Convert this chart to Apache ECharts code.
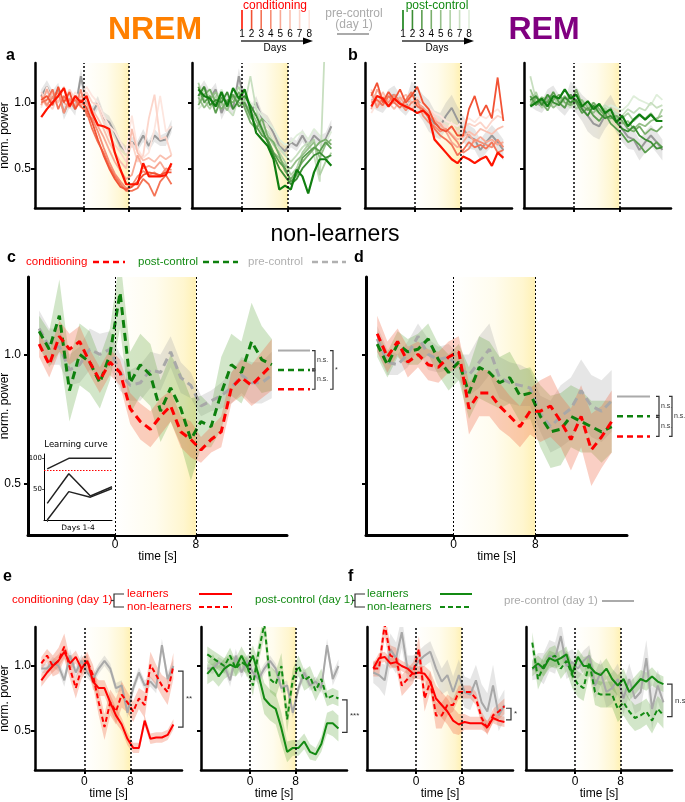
<!DOCTYPE html>
<html><head><meta charset="utf-8">
<script src="https://cdn.jsdelivr.net/npm/echarts@6/dist/echarts.min.js"></script>
<style>html,body{margin:0;padding:0;background:#fff}#c{width:685px;height:802px}</style>
</head><body><div id="c"></div>
<script>
// ---------------- DATA ----------------
const times = [-7.5,-6.5,-5.5,-4.5,-3.5,-2.5,-1.5,-0.5,0.5,1.5,2.5,3.5,4.5,5.5,6.5,7.5,8.5,9.5,10.5,11.5,12.5,13.5,14.5,15.5];
const xTicks = [0, 8];
const yTicks = [0.5, 1.0];

// a: NREM, conditioning days 1-8
const nremCondDays = [
 [0.89,0.95,1.00,1.05,1.11,0.97,1.05,1.00,1.05,0.92,0.83,0.82,0.80,0.62,0.49,0.38,0.38,0.38,0.54,0.44,0.44,0.44,0.45,0.54],
 [1.02,1.05,0.98,1.12,1.00,1.08,0.95,1.02,0.96,0.85,0.72,0.60,0.50,0.42,0.36,0.34,0.36,0.40,0.45,0.47,0.46,0.45,0.47,0.47],
 [1.00,1.02,1.10,0.95,1.05,0.98,1.02,0.97,0.93,0.80,0.70,0.62,0.52,0.44,0.38,0.33,0.33,0.35,0.42,0.38,0.29,0.40,0.45,0.38],
 [1.05,0.98,1.04,1.08,0.92,1.03,0.95,1.10,0.90,0.88,0.78,0.66,0.55,0.46,0.40,0.35,0.37,0.44,0.48,0.45,0.47,0.44,0.50,0.49],
 [0.98,1.10,1.00,1.05,1.00,0.96,1.05,0.98,1.00,0.90,0.82,0.74,0.64,0.55,0.48,0.42,0.45,0.60,0.50,0.52,0.50,0.55,0.48,0.52],
 [1.03,0.97,1.08,1.00,1.12,1.00,0.98,1.05,1.02,0.95,0.88,0.80,0.70,0.62,0.55,0.50,0.80,0.62,0.56,0.58,0.55,0.60,0.57,0.60],
 [1.08,1.00,0.95,1.06,1.00,1.10,1.02,0.96,1.08,1.00,0.98,0.86,0.75,0.68,0.62,0.55,0.70,0.55,0.60,0.88,1.06,0.72,0.74,0.60],
 [0.96,1.12,1.00,1.00,1.05,0.98,1.08,1.02,1.12,1.05,1.00,0.90,0.82,0.78,0.70,0.62,0.90,0.65,0.58,0.62,0.80,1.05,0.78,0.82]
];
// a: NREM, post-control days 1-8
const nremPostDays = [
 [1.10,1.05,1.03,0.97,1.08,0.97,1.11,1.03,1.10,0.95,0.77,0.72,0.67,0.57,0.34,0.37,0.34,0.49,0.44,0.31,0.47,0.57,0.57,0.52],
 [1.05,1.12,0.98,1.02,1.00,1.08,0.95,1.02,1.05,0.98,0.90,0.80,0.70,0.60,0.50,0.44,0.38,0.42,0.50,0.55,0.60,0.62,0.58,0.60],
 [1.12,1.00,1.05,0.92,1.04,1.00,1.06,0.97,1.00,0.90,0.82,0.75,0.72,0.62,0.55,0.50,0.40,0.45,0.58,0.62,0.66,0.63,0.70,0.65],
 [0.98,1.06,1.10,1.00,0.95,1.02,1.00,1.08,0.96,0.85,0.80,0.88,0.74,0.70,0.60,0.48,0.42,0.48,0.55,0.60,0.65,0.70,0.72,0.68],
 [1.04,0.96,1.02,1.08,1.00,0.94,1.05,1.00,0.98,0.94,0.86,0.78,0.70,0.62,0.58,0.52,0.50,0.56,0.60,0.65,0.70,0.58,0.68,0.72],
 [1.15,1.02,0.95,1.05,0.98,1.00,1.03,1.12,1.00,0.88,0.92,0.80,0.75,0.68,0.62,0.55,0.45,0.50,0.62,0.68,0.72,0.45,0.55,0.62],
 [1.00,1.10,1.04,0.98,1.06,0.95,0.90,1.05,0.98,1.20,0.95,0.82,0.78,0.70,0.66,0.60,0.55,0.60,0.66,0.70,0.60,0.40,1.60,1.60],
 [0.95,1.00,1.08,1.02,1.10,1.00,1.04,0.98,1.06,1.00,0.96,0.90,0.85,0.80,0.72,0.68,0.70,0.75,0.78,0.72,0.80,0.75,0.70,0.78]
];
const nremPre = [1.05,1.12,1.03,1.10,0.92,1.02,0.95,1.20,1.00,0.92,1.00,0.88,0.85,0.77,0.67,0.63,0.70,0.67,0.75,0.67,0.75,0.71,0.72,0.82];
const semNremPre = [0.05,0.05,0.06,0.05,0.05,0.06,0.05,0.06,0.05,0.05,0.05,0.05,0.05,0.05,0.04,0.04,0.04,0.04,0.05,0.04,0.05,0.04,0.05,0.05];

// b: REM, conditioning days 1-8
const remCondDays = [
 [0.97,1.05,1.03,0.97,1.03,0.99,0.97,0.95,0.92,0.94,0.90,0.72,0.67,0.62,0.57,0.54,0.59,0.57,0.54,0.57,0.59,0.52,0.62,0.58],
 [1.05,1.15,1.00,1.08,1.02,1.10,1.00,1.05,1.12,1.00,0.95,0.85,0.80,0.78,0.82,0.75,0.75,0.95,1.05,0.90,0.98,0.88,1.19,0.86],
 [1.00,1.02,0.98,1.05,1.00,0.96,1.02,1.08,0.97,0.95,0.88,0.80,0.75,0.72,0.68,0.60,0.64,0.70,0.66,0.68,0.65,0.70,0.62,0.64],
 [1.08,0.96,1.04,1.00,1.06,1.00,0.94,1.00,1.02,0.90,0.85,0.82,0.78,0.80,0.75,0.70,0.62,0.65,0.72,0.70,0.68,0.66,0.72,0.66],
 [0.95,1.10,1.02,0.98,1.00,1.04,0.98,0.94,1.00,0.96,0.92,0.86,0.84,0.78,0.70,0.66,0.70,0.76,0.70,0.74,0.70,0.72,0.68,0.70],
 [1.02,0.98,1.08,1.00,0.95,1.02,1.06,1.00,0.98,0.92,0.90,0.88,0.82,0.80,0.76,0.72,0.74,0.78,0.75,0.80,0.78,0.76,0.80,0.82],
 [1.10,1.00,0.96,1.04,1.00,0.98,1.02,0.96,1.04,1.00,0.95,0.90,0.85,0.82,0.80,0.78,0.80,0.84,0.82,0.85,0.80,0.86,0.90,0.88],
 [0.92,1.00,1.05,1.00,1.02,0.96,1.00,1.04,1.00,0.98,0.96,0.92,0.90,0.86,0.84,0.82,0.86,0.88,0.85,0.90,0.88,0.92,0.95,0.90]
];
// b: REM, post-control days 1-8
const remPostDays = [
 [0.97,1.00,1.03,0.97,1.05,1.03,1.10,1.03,1.06,0.97,1.01,0.95,0.99,0.92,0.95,0.85,0.90,0.82,0.87,0.91,0.87,0.91,0.86,0.86],
 [1.02,1.05,0.98,1.06,1.00,0.98,1.04,1.00,1.02,0.95,0.90,0.98,0.92,0.88,0.90,0.85,0.80,0.78,0.82,0.75,0.72,0.70,0.65,0.66],
 [1.05,0.98,1.02,1.00,1.08,1.00,0.96,1.06,1.00,0.92,0.96,0.90,0.86,0.92,0.84,0.80,0.76,0.70,0.72,0.68,0.62,0.66,0.70,0.66],
 [0.98,1.04,1.00,0.94,1.02,1.06,1.00,0.98,1.10,0.98,0.94,1.00,0.95,0.90,0.88,0.90,0.86,0.80,0.78,0.82,0.76,0.80,0.78,0.82],
 [1.10,1.00,1.04,1.02,0.96,1.00,1.05,0.98,1.00,1.02,0.96,0.92,0.98,0.94,0.90,0.88,0.84,0.86,0.80,0.84,0.82,0.86,0.88,0.90],
 [1.00,1.08,0.96,1.00,1.04,0.98,1.02,1.06,0.95,1.00,0.98,0.95,0.92,0.96,0.92,0.90,0.88,0.92,0.86,0.90,0.88,0.92,0.86,0.95],
 [1.20,1.02,1.00,1.06,0.98,1.04,1.00,0.96,1.02,0.98,1.00,0.96,0.94,0.98,0.95,0.92,0.90,0.95,0.92,0.96,0.94,1.00,0.96,0.98],
 [1.04,0.98,1.02,1.00,1.06,1.00,0.98,1.04,1.00,1.02,0.98,1.00,0.97,0.95,0.98,0.96,0.94,0.98,1.05,1.02,1.00,0.98,1.06,1.02]
];
const remPre = [1.02,1.00,0.97,1.04,1.06,1.00,0.96,1.06,1.02,0.96,0.90,0.84,0.82,0.90,0.96,0.87,0.80,0.74,0.72,0.64,0.70,0.75,0.70,0.64];
const semRemPre = [0.05,0.06,0.05,0.06,0.07,0.06,0.06,0.10,0.10,0.10,0.12,0.10,0.10,0.10,0.10,0.10,0.10,0.09,0.08,0.08,0.08,0.08,0.08,0.08];

// c: NREM non-learners
const cCond = [1.04,0.96,1.07,1.02,1.05,0.97,0.90,0.97,0.93,0.79,0.74,0.71,0.76,0.80,0.70,0.67,0.63,0.67,0.70,0.87,0.91,0.88,0.92,0.96];
const cPost = [1.09,1.02,1.15,0.86,1.00,0.97,0.89,1.00,1.24,0.89,0.96,0.92,0.78,0.87,0.79,0.67,0.74,0.72,0.85,0.96,0.93,1.05,0.98,0.96];
const cPre  = [1.10,1.03,1.03,0.94,0.96,1.02,1.00,1.02,0.93,0.88,0.89,0.94,0.93,1.01,0.91,0.88,0.80,0.82,0.84,0.87,0.92,0.89,0.89,0.92];
const semCCond = [0.05,0.05,0.06,0.06,0.06,0.05,0.05,0.05,0.05,0.06,0.07,0.07,0.07,0.06,0.06,0.07,0.05,0.05,0.06,0.06,0.07,0.08,0.09,0.10];
const semCPost = [0.06,0.07,0.14,0.12,0.12,0.12,0.10,0.10,0.14,0.12,0.12,0.12,0.12,0.13,0.14,0.16,0.10,0.08,0.14,0.12,0.12,0.15,0.13,0.10];
const semCPre  = [0.07,0.07,0.07,0.06,0.07,0.08,0.08,0.07,0.07,0.06,0.07,0.07,0.07,0.06,0.06,0.05,0.04,0.04,0.05,0.06,0.07,0.08,0.08,0.09];
const cMeans = [1.015, 0.94, 0.865];   // pre, post, cond
// d: REM non-learners
const dCond = [1.08,0.99,1.05,0.97,1.00,0.96,0.95,0.99,1.01,0.79,0.85,0.85,0.80,0.76,0.72,0.78,0.78,0.80,0.74,0.67,0.76,0.63,0.68,0.74];
const dPost = [1.04,0.96,1.04,1.01,1.02,1.06,0.98,0.93,0.97,0.85,0.95,0.93,0.89,0.91,0.84,0.85,0.76,0.70,0.71,0.76,0.74,0.72,0.70,0.72];
const dPre  = [1.06,0.97,0.96,1.00,1.07,1.00,0.98,0.99,0.95,0.92,0.97,1.02,0.91,0.89,0.88,0.87,0.77,0.72,0.76,0.79,0.86,0.80,0.78,0.82];
const semDCond = [0.07,0.06,0.05,0.06,0.05,0.06,0.06,0.06,0.06,0.10,0.09,0.09,0.09,0.08,0.08,0.09,0.12,0.12,0.10,0.12,0.12,0.14,0.12,0.12];
const semDPost = [0.05,0.05,0.05,0.05,0.06,0.06,0.06,0.07,0.07,0.10,0.12,0.12,0.10,0.10,0.10,0.10,0.12,0.14,0.14,0.12,0.12,0.10,0.12,0.10];
const semDPre  = [0.05,0.05,0.04,0.05,0.05,0.06,0.05,0.05,0.05,0.08,0.10,0.10,0.08,0.08,0.08,0.07,0.07,0.10,0.12,0.12,0.12,0.12,0.12,0.12];
const dMeans = [0.837, 0.76, 0.682];

// e: NREM day 1 learners / non-learners
const eCondL = [0.89,0.95,1.00,1.04,1.11,1.02,1.07,0.98,1.04,0.88,0.83,0.83,0.72,0.62,0.55,0.44,0.37,0.37,0.58,0.44,0.45,0.45,0.47,0.55];
const eCondN = [1.02,1.08,1.00,1.04,1.15,0.98,0.83,0.98,1.04,0.93,0.72,0.53,0.72,0.65,0.78,0.72,0.65,0.75,0.70,1.01,0.93,0.85,0.80,1.00];
const ePostL = [0.94,0.99,0.92,0.98,1.01,0.99,1.08,0.99,1.08,0.93,0.75,0.70,0.67,0.52,0.34,0.37,0.37,0.42,0.34,0.32,0.40,0.56,0.56,0.52];
const ePostN = [1.09,1.06,1.03,1.00,1.08,0.98,1.03,1.00,0.85,1.11,1.32,0.90,0.86,1.00,0.59,0.90,1.00,0.89,0.92,0.81,0.90,0.75,0.77,0.75];
const eGray  = [0.98,0.98,1.03,1.00,0.89,1.08,0.95,1.04,0.95,0.90,0.98,1.04,0.98,0.83,0.85,0.64,0.83,0.95,0.85,0.88,0.83,1.16,0.90,1.00];
const semECondL = [0.05,0.05,0.05,0.05,0.05,0.05,0.05,0.05,0.05,0.06,0.06,0.06,0.06,0.06,0.05,0.05,0.04,0.04,0.04,0.04,0.04,0.04,0.04,0.04];
const semECondN = [0.05,0.05,0.08,0.10,0.10,0.08,0.08,0.08,0.07,0.08,0.10,0.10,0.10,0.10,0.10,0.08,0.08,0.08,0.10,0.10,0.08,0.08,0.10,0.10];
const semEPostL = [0.08,0.10,0.08,0.08,0.08,0.07,0.07,0.08,0.08,0.10,0.12,0.12,0.12,0.12,0.08,0.06,0.06,0.06,0.06,0.05,0.06,0.08,0.10,0.10];
const semEPostN = [0.06,0.06,0.06,0.06,0.06,0.06,0.06,0.06,0.08,0.08,0.10,0.10,0.10,0.10,0.10,0.08,0.08,0.08,0.08,0.08,0.08,0.06,0.06,0.06];
const semEGray  = [0.03,0.04,0.04,0.04,0.05,0.05,0.04,0.05,0.04,0.04,0.04,0.04,0.04,0.04,0.04,0.04,0.04,0.04,0.04,0.04,0.04,0.05,0.05,0.05];
const eBrackets = [[0.96, 0.53], [0.74, 0.49]];
// f: REM day 1 learners / non-learners
const fCondL = [0.98,1.06,1.07,1.02,1.03,1.00,0.98,0.94,0.95,0.94,0.88,0.75,0.70,0.65,0.58,0.55,0.57,0.56,0.56,0.56,0.53,0.60,0.58,0.57];
const fCondN = [0.98,0.98,1.32,1.08,1.06,0.85,0.90,0.95,1.13,0.75,0.88,0.62,0.62,0.70,0.70,0.80,0.80,0.80,0.75,0.60,0.52,0.62,0.65,0.69];
const fGray1 = [0.95,0.93,0.89,1.13,1.06,1.26,0.98,0.98,1.04,1.08,1.11,0.98,0.88,0.93,0.80,0.93,0.80,0.78,0.89,0.72,0.65,0.85,0.62,0.70];
const fPostL = [0.98,1.02,0.98,1.06,1.04,1.06,1.09,0.94,1.07,1.00,1.00,0.95,0.93,0.98,0.90,0.85,0.90,0.80,0.85,0.90,0.88,0.92,0.88,0.86];
const fPostN = [1.18,0.90,1.00,1.06,1.08,0.98,1.04,0.93,0.86,0.83,1.03,0.80,0.78,0.78,0.78,0.67,0.72,0.65,0.60,0.62,0.65,0.58,0.67,0.62];
const fGray2 = [0.97,1.00,0.98,1.08,1.06,1.23,1.00,1.03,0.98,1.04,1.08,0.85,0.95,0.80,0.83,0.90,0.75,0.90,0.75,0.80,1.06,0.67,0.85,0.72];
const semFCondL = [0.04,0.04,0.04,0.04,0.04,0.04,0.04,0.04,0.05,0.06,0.08,0.10,0.10,0.10,0.10,0.08,0.06,0.05,0.05,0.05,0.05,0.04,0.04,0.04];
const semFCondN = [0.06,0.06,0.10,0.08,0.08,0.08,0.08,0.08,0.10,0.10,0.08,0.10,0.10,0.08,0.05,0.05,0.05,0.05,0.05,0.05,0.05,0.05,0.06,0.06];
const semFPostL = [0.06,0.06,0.06,0.06,0.06,0.06,0.06,0.06,0.06,0.07,0.08,0.08,0.08,0.08,0.08,0.08,0.08,0.07,0.07,0.07,0.07,0.07,0.06,0.06];
const semFPostN = [0.08,0.08,0.08,0.08,0.08,0.08,0.08,0.10,0.10,0.10,0.10,0.10,0.10,0.10,0.10,0.10,0.10,0.10,0.10,0.10,0.10,0.10,0.10,0.10];
const semFGray  = [0.08,0.10,0.12,0.12,0.12,0.12,0.10,0.10,0.08,0.08,0.08,0.10,0.10,0.12,0.12,0.12,0.12,0.12,0.12,0.14,0.14,0.16,0.12,0.12];
const fBrackets = [[0.675, 0.585], [0.86, 0.61]];

// inset learning curve
const learnDays = [1, 2, 3, 4];
const learnTop = [83, 100, 100, 100];
const learnA = [27, 75, 39, 54];
const learnB = [0, 46, 37, 51];
const learnCriterion = 81;
const learnTicksY = [50, 100];

// ---------------- STYLE ----------------
const redDays = ['#ff1400','#f25234','#f47356','#f68f76','#f8a995','#fac0b0','#fcd5ca','#fde6df'];
const greenDays = ['#107e10','#3c8e34','#5c9e50','#7aae6c','#96c08a','#b0d1a6','#c8dfc0','#dfeeda'];
const RED = '#ff0000', GREEN = '#138a13', GRAY = '#a8a8a8';
const RED_BAND = 'rgba(240,105,70,0.32)', GREEN_BAND = 'rgba(95,165,60,0.28)', GRAY_BAND = 'rgba(165,165,165,0.28)';
const FONT = '"Liberation Sans", Arial, sans-serif';

const grids = [
 {left:35, top:63, width:145, height:145},
 {left:192, top:63, width:148, height:145},
 {left:365, top:63, width:147, height:145},
 {left:524, top:63, width:147, height:145},
 {left:28, top:277, width:259, height:258},
 {left:366, top:277, width:261, height:258},
 {left:35, top:627, width:147, height:143},
 {left:201, top:627, width:146, height:143},
 {left:367, top:627, width:146, height:143},
 {left:526, top:627, width:146, height:143},
 {left:44, top:454, width:68, height:66}
].map(g => Object.assign({outerBoundsMode:'none', containLabel:false}, g));

const xAxes = [], yAxes = [];
for (let gi = 0; gi < 10; gi++) {
  const big = (gi === 4 || gi === 5);
  const showX = gi >= 4;
  const lw = big ? 3 : 2.5;
  xAxes.push({type:'value', gridIndex:gi, min:-8.6, max:17,
    axisLine:{show:true, onZero:false, lineStyle:{color:'#000', width:lw}},
    axisTick:{show:true, customValues:xTicks, length:4, lineStyle:{color:'#000', width:2}},
    axisLabel:{show:showX, customValues:xTicks, fontSize:12, color:'#000', fontFamily:FONT, margin: big ? 4 : 6},
    splitLine:{show:false},
    name: showX ? 'time [s]' : '', nameLocation:'middle', nameGap: big ? 16 : 18, nameMoveOverlap:false,
    nameTextStyle:{fontSize:12, color:'#000', fontFamily:FONT}});
  const showY = (gi === 0 || gi === 4 || gi === 6);
  yAxes.push({type:'value', gridIndex:gi, min: big ? 0.3 : 0.2, max:1.3,
    axisLine:{show:true, onZero:false, lineStyle:{color:'#000', width:lw}},
    axisTick:{show:true, customValues:yTicks, length:4, lineStyle:{color:'#000', width:2}},
    axisLabel:{show:showY, customValues:yTicks, fontSize:12, color:'#000', fontFamily:FONT, margin: big ? 7 : 4,
      formatter: v => v.toFixed(1)},
    splitLine:{show:false},
    name: showY ? 'norm. power' : '', nameLocation:'middle', nameGap: big ? 17 : 24, nameRotate:90, nameMoveOverlap:false,
    nameTextStyle:{fontSize:12, color:'#000', fontFamily:FONT}});
}
// inset axes
xAxes.push({type:'value', gridIndex:10, min:0.85, max:4,
  axisLine:{show:true, lineStyle:{color:'#000', width:1}},
  axisTick:{show:true, customValues:[1,3], length:2, lineStyle:{color:'#555', width:1}},
  axisLabel:{show:false}, splitLine:{show:false},
  name:'Days 1-4', nameLocation:'middle', nameGap:4, nameMoveOverlap:false,
  nameTextStyle:{fontSize:7.5, color:'#000', fontFamily:'"DejaVu Sans", sans-serif'}});
yAxes.push({type:'value', gridIndex:10, min:0, max:107,
  axisLine:{show:true, lineStyle:{color:'#000', width:1}},
  axisTick:{show:true, customValues:learnTicksY, length:2, lineStyle:{color:'#555', width:1}},
  axisLabel:{show:true, customValues:learnTicksY, fontSize:7, color:'#000', margin:2, fontFamily:'"DejaVu Sans", sans-serif'},
  splitLine:{show:false}});

// ---------------- SERIES ----------------
const series = [];
const pts = ys => times.map((t, i) => [t, ys[i]]);
function line(gi, ys, color, width, dash, z) {
  series.push({type:'line', xAxisIndex:gi, yAxisIndex:gi, data:pts(ys), symbol:'none', silent:true,
    lineStyle:{color:color, width:width, type:dash || 'solid'}, z: z || 3});
}
function band(gi, ys, sem, color) {
  const lo = ys.map((v, i) => v - sem[i]);
  const hi = ys.map((v, i) => v + sem[i]);
  series.push({type:'custom', xAxisIndex:gi, yAxisIndex:gi, silent:true, z:2, clip:true,
    data: times.map((t, i) => [t, lo[i], hi[i]]),
    encode:{x:0, y:[1, 2]},
    renderItem: function (params, api) {
      if (params.dataIndex !== 0) return null;
      const up = times.map((t, i) => api.coord([t, hi[i]]));
      const dn = times.map((t, i) => api.coord([t, lo[i]])).reverse();
      return {type:'polygon', shape:{points: up.concat(dn)}, style:{fill: color}};
    }});
}
const stimGrad = () => new echarts.graphic.LinearGradient(0, 0, 1, 0, [
  {offset:0, color:'#ffffff'}, {offset:0.5, color:'#fffcee'}, {offset:0.85, color:'#fff6cf'}, {offset:1, color:'#fff1b4'}]);
for (let gi = 0; gi < 10; gi++) {
  const big = (gi === 4 || gi === 5);
  series.push({type:'line', xAxisIndex:gi, yAxisIndex:gi, data:[], z:1, silent:true,
    markArea:{silent:true, itemStyle:{color:stimGrad(), opacity:1}, data:[[{xAxis:xTicks[0]}, {xAxis:xTicks[1]}]]}});
  series.push({type:'line', xAxisIndex:gi, yAxisIndex:gi, data:[], z:4, silent:true,
    markLine:{silent:true, symbol:['none','none'], label:{show:false},
      lineStyle:{color:'#000', type:[2, 2], width: big ? 1 : 1.5},
      data:[{xAxis:xTicks[0]}, {xAxis:xTicks[1]}]}});
}
// a / b
function dayPanel(gi, days, colors, pre, semPre) {
  band(gi, pre, semPre, GRAY_BAND);
  line(gi, pre, '#999999', 2, 'solid', 3);
  for (let d = days.length - 1; d >= 0; d--) line(gi, days[d], colors[d], d === 0 ? 2.2 : 1.8, 'solid', 3);
}
dayPanel(0, nremCondDays, redDays, nremPre, semNremPre);
dayPanel(1, nremPostDays, greenDays, nremPre, semNremPre);
dayPanel(2, remCondDays, redDays, remPre, semRemPre);
dayPanel(3, remPostDays, greenDays, remPre, semRemPre);
// c / d
const DASH_BIG = [8, 5];
band(4, cPre, semCPre, GRAY_BAND); band(4, cPost, semCPost, GREEN_BAND); band(4, cCond, semCCond, RED_BAND);
line(4, cPre, '#a8a8a8', 3, DASH_BIG); line(4, cPost, '#0d800d', 3, DASH_BIG); line(4, cCond, RED, 3, DASH_BIG);
band(5, dPre, semDPre, GRAY_BAND); band(5, dPost, semDPost, GREEN_BAND); band(5, dCond, semDCond, RED_BAND);
line(5, dPre, '#a8a8a8', 3, DASH_BIG); line(5, dPost, '#0d800d', 3, DASH_BIG); line(5, dCond, RED, 3, DASH_BIG);
// e / f
const DASH = [5, 3];
band(6, eGray, semEGray, GRAY_BAND); band(6, eCondN, semECondN, RED_BAND); band(6, eCondL, semECondL, RED_BAND);
line(6, eGray, GRAY, 2); line(6, eCondN, RED, 2, DASH); line(6, eCondL, RED, 2);
band(7, eGray, semEGray, GRAY_BAND); band(7, ePostN, semEPostN, GREEN_BAND); band(7, ePostL, semEPostL, GREEN_BAND);
line(7, eGray, GRAY, 2); line(7, ePostN, GREEN, 2, DASH); line(7, ePostL, GREEN, 2);
band(8, fGray1, semFGray, GRAY_BAND); band(8, fCondN, semFCondN, RED_BAND); band(8, fCondL, semFCondL, RED_BAND);
line(8, fGray1, GRAY, 2); line(8, fCondN, RED, 2, DASH); line(8, fCondL, RED, 2);
band(9, fGray2, semFGray, GRAY_BAND); band(9, fPostN, semFPostN, GREEN_BAND); band(9, fPostL, semFPostL, GREEN_BAND);
line(9, fGray2, GRAY, 2); line(9, fPostN, GREEN, 2, DASH); line(9, fPostL, GREEN, 2);
// inset
const lpts = ys => learnDays.map((d, i) => [d, ys[i]]);
[learnTop, learnA, learnB].forEach(ys => series.push({type:'line', xAxisIndex:10, yAxisIndex:10, data:lpts(ys),
  symbol:'none', silent:true, lineStyle:{color:'#222', width:1.5}, z:3}));
series.push({type:'line', xAxisIndex:10, yAxisIndex:10, data:[], z:3, silent:true,
  markLine:{silent:true, symbol:['none','none'], label:{show:false}, lineStyle:{color:'#ff0000', type:[1.5,1.5], width:1},
    data:[{yAxis:learnCriterion}]}});

const option = {animation:false, backgroundColor:'#fff', grid:grids, xAxis:xAxes, yAxis:yAxes, series:series};
const chart = echarts.init(document.getElementById('c'), null, {renderer:'canvas'});
chart.setOption(option);

// ---------------- ANNOTATIONS ----------------
const g = [];
function T(x, y, text, fill, font, align) {
  g.push({type:'text', silent:true, z:10, style:{x:x, y:y, text:text, fill:fill, font:font,
    align:align || 'left', textAlign:align || 'left', verticalAlign:'middle', textVerticalAlign:'middle'}});
}
function L(x1, y1, x2, y2, stroke, w, dash) {
  g.push({type:'line', silent:true, z:10, shape:{x1:x1, y1:y1, x2:x2, y2:y2}, style:{stroke:stroke, lineWidth:w, lineDash:dash || null}});
}
function PL(points, stroke, w) {
  g.push({type:'polyline', silent:true, z:10, shape:{points:points}, style:{stroke:stroke, lineWidth:w, fill:null}});
}
function bracket(x, y1, y2, tick) { PL([[x - tick, y1], [x, y1], [x, y2], [x - tick, y2]], '#333', 1.2); }
const yPix = (gi, v) => chart.convertToPixel({gridIndex:gi}, [0, v])[1];

// titles
T(155, 30, 'NREM', '#ff8000', 'bold 32px ' + FONT, 'center');
T(544, 30, 'REM', '#800080', 'bold 32px ' + FONT, 'center');
// day legends
function dayLegend(x0, step, colors, label, labelColor, cx) {
  T(cx, 6, label, labelColor, '12px ' + FONT, 'center');
  for (let i = 0; i < 8; i++) {
    const x = x0 + i * step;
    L(x, 10, x, 29, colors[i], 1.6);
    T(x, 34.5, String(i + 1), '#000', '10px ' + FONT, 'center');
  }
  L(x0 - 1, 41, x0 + 62, 41, '#666', 2);
  g.push({type:'polygon', silent:true, z:10, shape:{points:[[x0 + 61, 37.5], [x0 + 71, 41], [x0 + 61, 44.5]]}, style:{fill:'#000'}});
  T(cx, 48, 'Days', '#000', '10px ' + FONT, 'center');
}
dayLegend(242, 9.6, redDays, 'conditioning', '#ff0000', 275);
dayLegend(403, 9.43, greenDays, 'post-control', '#138a13', 437);
T(354, 14, 'pre-control', '#aaaaaa', '12px ' + FONT, 'center');
T(354, 25, '(day 1)', '#aaaaaa', '12px ' + FONT, 'center');
L(337, 34, 369, 34, '#aaaaaa', 2);
// panel letters
const LB = 'bold 16px ' + FONT;
T(6, 56, 'a', '#000', LB); T(348, 56, 'b', '#000', LB);
T(7, 258, 'c', '#000', LB); T(354, 258, 'd', '#000', LB);
T(3, 577, 'e', '#000', LB); T(348, 577, 'f', '#000', LB);
T(335, 235, 'non-learners', '#000', '23px ' + FONT, 'center');
// c legend
const F12 = '11.5px ' + FONT;
T(26, 262, 'conditioning', '#ff0000', F12); L(93, 262, 125, 262, '#ff0000', 2.5, [6, 4]);
T(138, 262, 'post-control', '#138a13', F12); L(203, 262, 238, 262, '#0d800d', 2.5, [6, 4]);
T(248, 262, 'pre-control', '#b0b0b0', F12); L(312, 262, 346, 262, '#b0b0b0', 2.5, [6, 4]);
// c / d mean markers and brackets
function meanBrackets(gi, means, x1, x2, xb, xo, outerText) {
  const y0 = yPix(gi, means[0]), y1 = yPix(gi, means[1]), y2 = yPix(gi, means[2]);
  L(x1, y0, x2, y0, '#aaaaaa', 2);
  L(x1, y1, x2, y1, '#0d800d', 2.5, [6, 4]);
  L(x1, y2, x2, y2, '#ff0000', 2.5, [6, 4]);
  L(xb - 3, y1, xb + 1, y1, '#888', 2);
  bracket(xb, y0, y1 - 1, 3); bracket(xb, y1 + 1, y2, 3);
  T(xb + 2, (y0 + y1) / 2, 'n.s.', '#333', '7px ' + FONT);
  T(xb + 2, (y1 + y2) / 2, 'n.s.', '#333', '7px ' + FONT);
  bracket(xo, y0, y2, 3);
  T(xo + 2, (y0 + y2) / 2, outerText, '#333', '7px ' + FONT);
}
meanBrackets(4, cMeans, 278, 310, 315, 333, '*');
meanBrackets(5, dMeans, 617, 650, 659, 672, 'n.s.');
// inset title
T(76, 445, 'Learning curve', '#000', '8.5px "DejaVu Sans", sans-serif', 'center');
// e / f legends
const F11 = '11.5px ' + FONT;
T(12, 600, 'conditioning (day 1)', '#ff0000', F11);
PL([[124, 594], [114, 594], [114, 607], [124, 607]], '#333', 1.2); L(111, 600.5, 114, 600.5, '#333', 1.2);
T(127, 594, 'learners', '#ff0000', F11); T(127, 607, 'non-learners', '#ff0000', F11);
L(199, 594, 232, 594, '#ff0000', 2); L(199, 607, 232, 607, '#ff0000', 2, [5, 3]);
T(255, 600, 'post-control (day 1)', '#138a13', F11);
PL([[365, 594], [355, 594], [355, 607], [365, 607]], '#333', 1.2); L(352, 600.5, 355, 600.5, '#333', 1.2);
T(367, 594, 'learners', '#138a13', F11); T(367, 607, 'non-learners', '#138a13', F11);
L(440, 594, 472, 594, '#138a13', 2); L(440, 607, 472, 607, '#138a13', 2, [5, 3]);
T(504, 601, 'pre-control (day 1)', '#aaaaaa', F11); L(602, 601, 634, 601, '#aaaaaa', 2);
// e / f significance brackets
function sig(gi, pair, x, text) {
  const ya = yPix(gi, pair[0]), yb = yPix(gi, pair[1]);
  bracket(x, ya, yb, 5);
  T(x + 3, (ya + yb) / 2, text, '#333', '8px ' + FONT);
}
sig(6, eBrackets[0], 183, '**');
sig(7, eBrackets[1], 347, '***');
sig(8, fBrackets[0], 511, '*');
sig(9, fBrackets[1], 672, 'n.s.');

chart.setOption({graphic: g});
</script>
</body></html>
